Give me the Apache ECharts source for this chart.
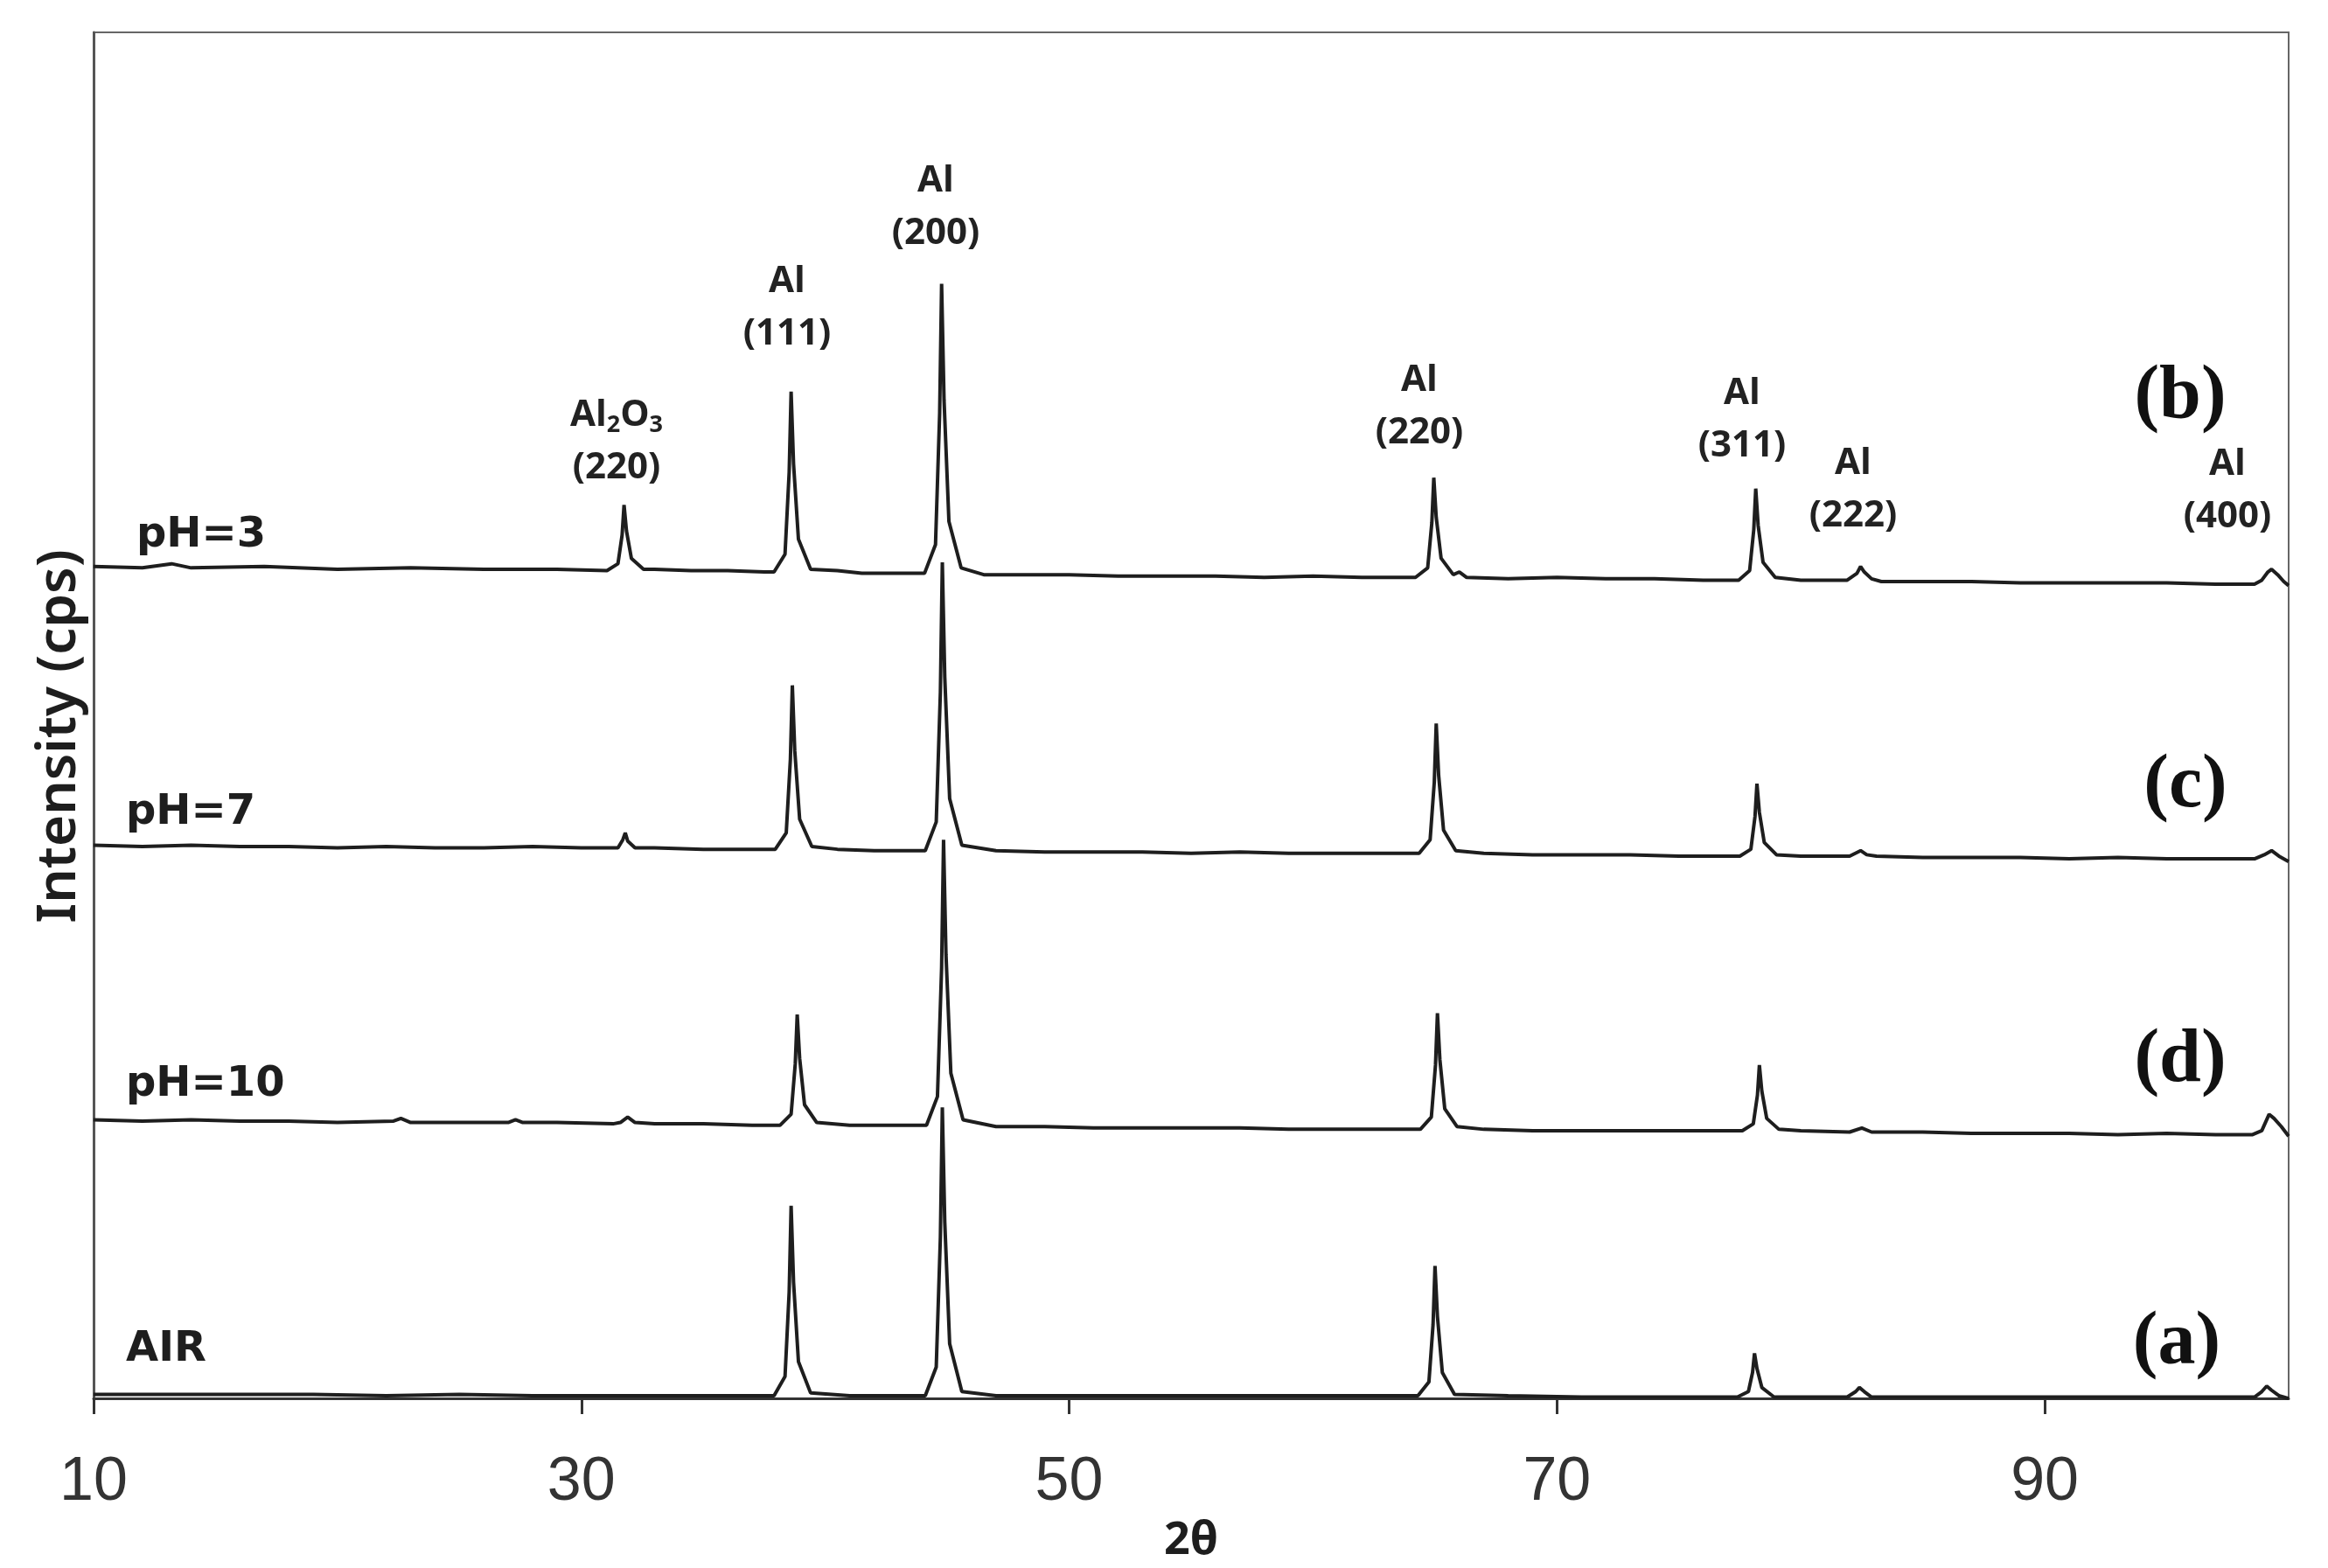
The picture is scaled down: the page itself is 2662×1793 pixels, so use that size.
<!DOCTYPE html>
<html><head><meta charset="utf-8">
<script src="https://cdn.jsdelivr.net/npm/echarts@6/dist/echarts.min.js"></script>
<style>html,body{margin:0;padding:0;background:#fff}#c{width:2662px;height:1793px}</style>
</head><body><div id="c"></div>
<script>
// ---- data (2θ in degrees, intensity in arbitrary stacked units) ----
const seriesNames = ['AIR', 'pH=10', 'pH=7', 'pH=3'];
const panelLetters = ['(a)', '(d)', '(c)', '(b)'];
const xTickValues = [10, 30, 50, 70, 90];
const peakLabelTexts = ['Al2O3\n(220)', 'Al\n(111)', 'Al\n(200)', 'Al\n(220)', 'Al\n(311)', 'Al\n(222)', 'Al\n(400)'];
const yAxisTitle = 'Intensity (cps)';
const xAxisTitle = '2θ';

const pH3Pattern = [
  [10,609],[12,608],[13.2,611],[14,608],[17,609],[20,607],[23,608],[26,607],[29,607],
  [31.05,606],[31.5,611],[31.67,632],[31.75,654],[31.85,635],[32.05,615],[32.55,607],
  [33,607],[34.5,606],[36,606],[37.5,605],
  [37.9,605],[38.35,618],[38.52,678],[38.6,737],[38.7,684],[38.9,629],[39.4,607],
  [40.5,606],[41.5,604],[43,604],
  [44.07,604],[44.52,625],[44.69,721],[44.77,816],[44.87,731],[45.07,642],[45.57,608],
  [46.5,603],[48,603],[50,603],[52,602],[54,602],[56,602],[58,601],[60,602],[62,601],[64.2,601],
  [64.7,608],[64.87,641],[64.95,674],[65.05,645],[65.25,615],[65.75,603],
  [66.0,605],[66.3,601],
  [68,600],[70,601],[72,600],[74,600],[76,599],[77.45,599],
  [77.9,606],[78.07,636],[78.15,666],[78.25,639],[78.45,612],[78.95,601],
  [80,599],[81.9,599],[82.3,604],[82.45,609],[82.6,605],[82.9,600],[83.3,598],
  [85,598],[87,598],[89,597],[91,597],[93,597],[95,597],[97,596],[98.6,596],
  [98.9,599],[99.15,605],[99.3,607],[99.55,603],[99.8,598],[100,595]
];

const pH7Pattern = [
  [10,405],[12,404],[14,405],[16,404],[18,404],[20,403],[22,404],[24,403],[26,403],[28,404],[30,403],
  [31.5,403],[31.7,409],[31.8,414],[31.9,408],[32.2,403],
  [33,403],[35,402],[37,402],
  [37.95,402],[38.4,414],[38.57,468],[38.65,522],[38.75,474],[38.95,424],[39.45,404],
  [40.5,402],[42,401],[43.5,401],
  [44.1,401],[44.55,422],[44.72,517],[44.8,612],[44.9,528],[45.1,439],[45.6,405],
  [47,401],[49,400],[51,400],[53,400],[55,399],[57,400],[59,399],[61,399],[63,399],
  [64.35,399],[64.8,409],[64.97,451],[65.05,494],[65.15,456],[65.35,416],[65.85,401],
  [67,399],[69,398],[71,398],[73,398],[75,397],
  [77.5,397],[77.95,402],[78.12,426],[78.2,450],[78.3,429],[78.5,407],[79.0,398],
  [80,397],[82.0,397],[82.45,401],[82.7,398],[83.1,397],
  [85,396],[87,396],[89,396],[91,395],[93,396],[95,395],[97,395],[98.6,395],
  [99.0,398],[99.3,401],[99.6,397],[100,393]
];

const pH10Pattern = [
  [10,204],[12,203],[14,204],[16,203],[18,203],[20,202],[22.3,203],[22.6,205],[23,202],[25,202],
  [27,202],[27.3,204],[27.6,202],[29,202],[31.3,201],
  [31.6,202],[31.9,206],[32.2,202],
  [33,201],[35,201],[37,200],
  [38.15,200],[38.6,208],[38.77,245],[38.85,281],[38.95,249],[39.15,215],[39.65,202],
  [41,200],[42.5,200],
  [44.15,200],[44.6,221],[44.77,315],[44.85,409],[44.95,325],[45.15,238],[45.65,204],
  [47,199],[49,199],[51,198],[53,198],[55,198],[57,198],[59,197],[61,197],[63,197],
  [64.4,197],[64.85,206],[65.02,244],[65.1,282],[65.2,248],[65.4,212],[65.9,199],
  [67,197],[69,196],[71,196],[73,196],[75,196],
  [77.6,196],[78.05,201],[78.22,222],[78.3,244],[78.4,225],[78.6,205],[79.1,197],
  [80,196],[82,195],[82.5,198],[82.9,195],
  [85,195],[87,194],[89,194],[91,194],[93,193],[95,194],[97,193],[98.5,193],
  [98.9,196],[99.2,208],[99.4,205],[99.7,199],[100,192]
];

const airPattern = [
  [10,3],[13,3],[16,3],[19,3],[22,2],[25,3],[28,2],[31,2],[34,2],[37,2],
  [37.9,2],[38.35,16],[38.52,78],[38.6,141],[38.7,85],[38.9,27],[39.4,4],
  [41,2],[43,2],
  [44.1,2],[44.55,23],[44.72,118],[44.8,213],[44.9,129],[45.1,40],[45.6,5],
  [47,2],[50,2],[53,2],[56,2],[59,2],[62,2],
  [64.3,2],[64.75,12],[64.92,54],[65.0,97],[65.1,60],[65.3,19],[65.8,3],
  [68,2],[71,1],[74,1],
  [77.4,1],[77.85,5],[78.02,19],[78.1,33],[78.2,22],[78.4,8],[78.9,1],
  [80,1],[81.9,1],[82.25,5],[82.4,8],[82.6,5],[82.9,1],
  [85,1],[88,1],[91,1],[94,1],[97,1],[98.6,1],
  [98.9,5],[99.1,9],[99.3,6],[99.6,2],[100,0]
];

const patterns = [airPattern, pH10Pattern, pH7Pattern, pH3Pattern];

// ---- chart ----
const chart = echarts.init(document.getElementById('c'), null, {renderer: 'canvas'});
const ink = '#1e1e1e';

const series = seriesNames.map((name, i) => ({
  name: name,
  type: 'line',
  data: patterns[i],
  showSymbol: false,
  symbol: 'none',
  lineStyle: {color: ink, width: 4},
  animation: false,
  z: 3
}));

// annotation positions (pixels)
const sampleLabelPos = [[144, 1544], [144, 1241], [144, 930], [156, 613]];
const panelPos = [[2489, 1537], [2493, 1214], [2499, 900], [2493, 455]];
const peakLabelPos = [[705, 505], [900, 352], [1070, 237], [1623, 465], [1992, 480], [2119, 560], [2547, 561]];
const peakFont = '"Open Sans", "Noto Sans", sans-serif';

const graphics = [];
seriesNames.forEach((t, i) => {
  graphics.push({type: 'text', x: sampleLabelPos[i][0], y: sampleLabelPos[i][1], z: 10,
    style: {text: t, fill: '#1e1e1e', fontFamily: '"DejaVu Sans", sans-serif', fontWeight: 'bold', fontSize: 48,
      align: 'left', verticalAlign: 'middle'}});
  graphics.push({type: 'text', x: panelPos[i][0], y: panelPos[i][1], z: 10,
    style: {text: panelLetters[i], fill: '#111', fontFamily: '"Liberation Serif", serif', fontWeight: 'bold', fontSize: 86,
      align: 'center', verticalAlign: 'middle'}});
});
peakLabelTexts.forEach((t, i) => {
  let text = t, rich = undefined;
  if (t.startsWith('Al2O3')) {
    text = '{n|Al}{s|2}{n|O}{s|3}\n{n|(220)}';
    rich = {
      n: {fontSize: 42, fontWeight: 'bold', fontFamily: peakFont, fill: '#222', lineHeight: 60},
      s: {fontSize: 27, fontWeight: 'bold', fontFamily: peakFont, fill: '#222', lineHeight: 60, padding: [22, 0, 0, 0]}
    };
  }
  graphics.push({type: 'text', x: peakLabelPos[i][0], y: peakLabelPos[i][1], z: 10,
    style: {text: text, rich: rich, fill: '#222', fontFamily: peakFont, fontWeight: 'bold', fontSize: 42,
      lineHeight: 60, align: 'center', verticalAlign: 'middle'}});
});
// y axis title (rotated)
graphics.push({type: 'text', x: 68, y: 842, rotation: Math.PI / 2, z: 10,
  style: {text: yAxisTitle, fill: '#1e1e1e', fontFamily: '"Noto Sans", "Open Sans", sans-serif', fontWeight: 600, fontSize: 62,
    align: 'center', verticalAlign: 'middle'}});

chart.setOption({
  backgroundColor: '#ffffff',
  animation: false,
  grid: {left: 107, right: 45, top: 37, bottom: 188, show: true, borderColor: '#666', borderWidth: 2},
  xAxis: {
    type: 'value', min: 10, max: 100,
    name: xAxisTitle, nameLocation: 'middle', nameGap: 122,
    nameTextStyle: {fontSize: 52, fontWeight: 'bold', fontFamily: '"Open Sans", "Noto Sans", sans-serif', color: '#1e1e1e'},
    axisLine: {show: true, onZero: false, lineStyle: {color: '#333', width: 3}},
    axisTick: {show: true, inside: false, length: 18, customValues: xTickValues, lineStyle: {color: '#333', width: 3}},
    axisLabel: {show: true, customValues: xTickValues, margin: 62, fontSize: 70,
      fontFamily: '"Liberation Sans", Arial, sans-serif', color: '#333'},
    splitLine: {show: false}
  },
  yAxis: {
    type: 'value', min: 0, max: 1000,
    axisLine: {show: true, lineStyle: {color: '#555', width: 3}},
    axisTick: {show: false},
    axisLabel: {show: false},
    splitLine: {show: false}
  },
  series: series,
  graphic: graphics
});
</script>
</body></html>
